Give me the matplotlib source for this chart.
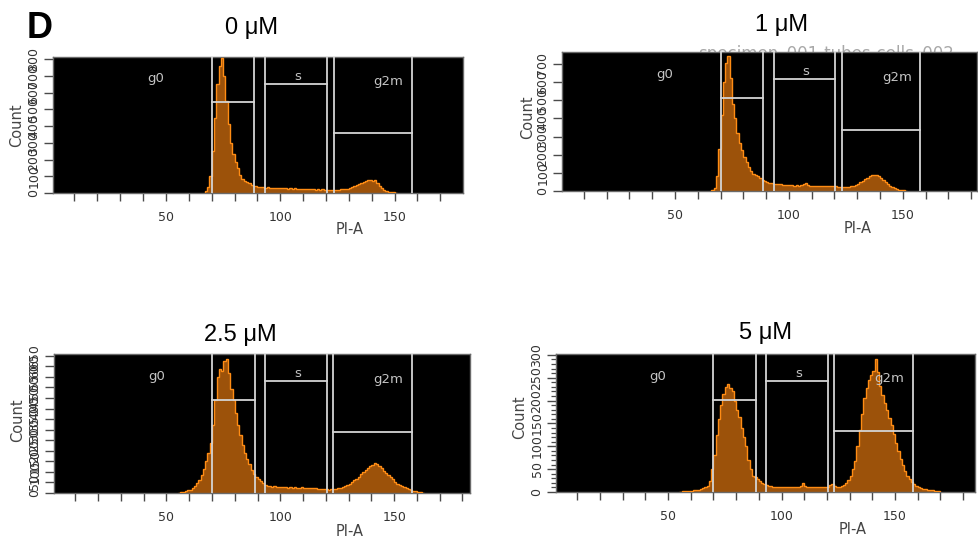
import numpy as np
import matplotlib
matplotlib.use("Agg")
import matplotlib.pyplot as plt
from matplotlib.ticker import MultipleLocator, FixedLocator
from matplotlib.transforms import blended_transform_factory

W, H = 979, 543

# PI-A histogram bins: first edge and width (channel units)
pi_a_start = 55
bin_width = 1

counts_0uM = [
    0, 0, 0, 0, 0, 0, 0, 0, 0, 0, 0, 0,
    12, 35, 100,
    250, 450, 650, 760, 804, 700, 550, 410, 300, 230,
    185, 150, 105, 85, 70, 63, 60, 50, 42, 40,
    38, 34, 35, 32, 34, 30, 32, 29, 31, 28,
    30, 27, 29, 26, 28, 25, 27, 24, 26, 23,
    25, 22, 24, 21, 22, 20, 22, 19, 21, 19,
    20, 18, 19, 18, 20, 18, 21, 22, 24, 26,
    30, 34, 40, 46, 52, 58, 64, 70, 76, 80,
    74, 76, 62, 42, 28, 18, 12, 8, 6, 4,
    2, 0, 0, 0, 0, 0, 0, 0, 0, 0,
    0, 0, 0, 0, 0, 0, 0, 0, 0, 0,
]

counts_1uM = [
    0, 0, 0, 0, 0, 0, 0, 0, 0, 0, 0,
    5, 15, 80, 230,
    420, 600, 705, 745, 620, 480, 400, 320, 265, 225,
    190, 160, 135, 110, 96, 86, 80, 72, 63, 55,
    48, 45, 42, 40, 39, 37, 36, 34, 35, 32,
    33, 31, 30, 31, 29, 32, 38, 44, 34, 30,
    29, 28, 29, 27, 28, 26, 27, 25, 27, 26,
    25, 24, 22, 21, 20, 22, 24, 27, 30, 34,
    40, 48, 56, 65, 72, 80, 86, 90, 88, 82,
    72, 58, 48, 36, 28, 20, 15, 11, 8, 5,
    3, 1, 0, 0, 0, 0, 0, 0, 0, 0,
    0, 0, 0, 0, 0, 0, 0, 0, 0, 0,
]

counts_2p5uM = [
    2, 4, 6, 9, 12,
    16, 22, 32, 45, 62, 85, 115, 150, 190, 235,
    320, 440, 550, 585, 578, 625, 635, 570, 490, 440,
    380, 320, 275, 225, 190, 160, 135, 110, 92, 78,
    66, 56, 47, 40, 35, 32, 30, 31, 29, 28,
    30, 27, 28, 26, 27, 25, 27, 26, 25, 27,
    26, 24, 26, 25, 23, 22, 21, 20, 19, 18,
    17, 16, 17, 19, 21, 23, 26, 29, 33, 38,
    44, 52, 60, 68, 78, 88, 98, 108, 118, 126,
    134, 140, 136, 128, 118, 106, 95, 84, 74, 64,
    52, 44, 38, 32, 27, 22, 18, 15, 11, 8,
    5, 3, 1, 0, 0, 0, 0, 0, 0, 0,
]

counts_5uM = [
    1, 2, 2, 3, 2,
    3, 4, 5, 5, 7, 8, 10, 14, 25, 50,
    80, 125, 160, 190, 215, 230, 236, 228, 222, 200,
    180, 165, 140, 120, 100, 70, 50, 36, 32, 28,
    23, 20, 18, 16, 14, 13, 12, 11, 12, 10,
    11, 10, 11, 12, 10, 11, 10, 12, 14, 20,
    13, 10, 11, 10, 11, 10, 11, 12, 10, 11,
    12, 16, 17, 13, 11, 12, 14, 16, 20, 26,
    36, 50, 68, 100, 135, 170, 205, 228, 245, 256,
    265, 290, 262, 232, 212, 195, 180, 163, 146, 128,
    108, 90, 72, 58, 46, 36, 28, 22, 17, 14,
    11, 9, 7, 6, 5, 4, 4, 3, 2, 2,
]

panel_titles = ["0 \u03bcM", "1 \u03bcM", "2.5 \u03bcM", "5 \u03bcM"]
panel_counts = [counts_0uM, counts_1uM, counts_2p5uM, counts_5uM]

# y axis setup per panel: upper limit, major step, minor step
y_limits = [812, 766, 658, 302]
y_major = [100, 100, 50, 50]
y_minor = [None, None, None, 10]
y_top_tick = [800, 700, 650, 300]
x_limits = [(0.6, 179.9), (0.4, 182.6), (0.6, 183.3), (0.7, 185.2)]

# gates: name, channel range, height of marker bar (axes fraction)
gate_names = ["g0", "s", "g2m"]
gate_ranges = [(70.0, 88.7), (93.3, 120.3), (123.3, 157.7)]
gate_levels = [0.67, 0.805, 0.44]

# axes boxes in pixels: left, top, right, bottom
boxes = [(53, 57, 463, 193), (562, 52, 977, 191),
         (54, 354, 470, 493), (556, 354, 975, 492)]
title_pos = [(252, 28), (782, 25), (240, 335), (766, 333)]
count_pos = [(17, 125), (528, 117), (18, 420), (520, 417)]
pia_pos = [(350, 230), (858, 229), (350, 531), (853, 529)]

FILL = "#9c520a"
EDGE = "#ff8c14"
GATE = "#d4d4d4"
AXC = "#4a4a4a"

fig = plt.figure(figsize=(W / 100, H / 100), dpi=100)

for i in range(4):
    l, t, r, b = boxes[i]
    ax = fig.add_axes([l / W, 1 - b / H, (r - l) / W, (b - t) / H])
    ax.set_facecolor("black")
    counts = np.array(panel_counts[i], dtype=float)
    edges = pi_a_start + bin_width * np.arange(len(counts) + 1)
    ax.stairs(counts, edges, fill=True, color=FILL, zorder=2)
    outline = np.where(counts > 0, counts, np.nan)
    ax.stairs(outline, edges, color=EDGE, lw=1.0, zorder=3)

    ax.set_xlim(*x_limits[i])
    ax.set_ylim(0, y_limits[i])

    trans = blended_transform_factory(ax.transData, ax.transAxes)
    for (lo, hi), lev in zip(gate_ranges, gate_levels):
        for xv in (lo, hi):
            ax.plot([xv, xv], [0, 1], transform=trans, color=GATE, lw=1.3, zorder=4)
        ax.plot([lo, hi], [lev, lev], transform=trans, color=GATE, lw=1.3, zorder=4)
    ax.text(45.6, 0.84, gate_names[0], transform=trans, color="#c4c4c4",
            fontsize=9.5, ha="center", va="center", zorder=5)
    ax.text(107.5, gate_levels[1] + 0.005, gate_names[1], transform=trans,
            color="#c4c4c4", fontsize=9.5, ha="center", va="bottom", zorder=5)
    ax.text(147.4, 0.82, gate_names[2], transform=trans, color="#c4c4c4",
            fontsize=9.5, ha="center", va="center", zorder=5)

    # x axis: ticks every 10, labels only at 50/100/150
    xt = list(range(10, 190, 10))
    ax.xaxis.set_major_locator(FixedLocator(xt))
    ax.set_xticklabels([str(v) if v in (50, 100, 150) else "" for v in xt])
    ax.tick_params(axis="x", direction="out", length=6, width=1, color=AXC,
                   labelsize=9, labelcolor="#333333", pad=7)

    yt = list(range(0, y_top_tick[i] + 1, y_major[i]))
    ax.yaxis.set_major_locator(FixedLocator(yt))
    ax.set_yticklabels([str(v) for v in yt])
    ax.tick_params(axis="y", direction="out", length=6.5, width=1, color=AXC,
                   labelsize=9, labelcolor="#333333", pad=2.5, labelrotation=90)
    for lab in ax.get_yticklabels():
        lab.set_va("center")
    if y_minor[i]:
        ax.yaxis.set_minor_locator(MultipleLocator(y_minor[i]))
        ax.tick_params(axis="y", which="minor", direction="out", length=3.5,
                       width=0.9, color=AXC)

    for sp in ax.spines.values():
        sp.set_color("#6a6a6a")
        sp.set_linewidth(1.0)

    tx, ty = title_pos[i]
    fig.text(tx / W, 1 - ty / H, panel_titles[i], fontsize=17,
             family="Liberation Sans", ha="center", va="center")
    cx, cy = count_pos[i]
    fig.text(cx / W, 1 - cy / H, "Count", fontsize=10.5, color="#444444",
             rotation=90, ha="center", va="center")
    px, py = pia_pos[i]
    fig.text(px / W, 1 - py / H, "PI-A", fontsize=10.5, color="#444444",
             ha="center", va="center")

# sample header, mostly tucked behind the 1 uM plot area
fig.text(698 / W, 1 - 59 / H, "specimen_001-tubes-cells_002", fontsize=12,
         color="#a8a8a8", ha="left", va="baseline", zorder=-1)

fig.text(27 / W, 1 - 37.5 / H, "D", fontsize=26, fontweight="bold",
         family="Liberation Sans", ha="left", va="baseline")

fig.savefig("out.png", dpi=100)
